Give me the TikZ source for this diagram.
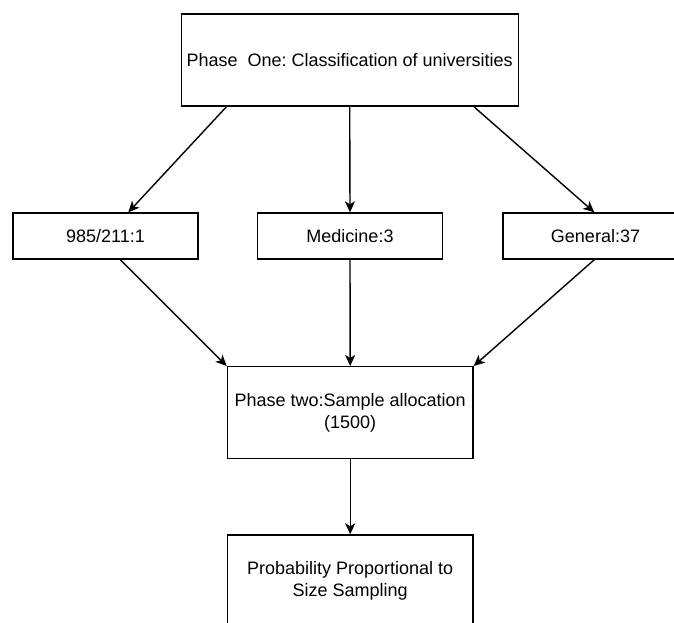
\documentclass[tikz,border=0pt]{standalone}
\usepackage{fontspec}
\setmainfont{Liberation Sans}
\usetikzlibrary{arrows.meta,calc}
\frenchspacing
\begin{document}
\begin{tikzpicture}[x=1pt,y=-1pt,
  box/.style={draw=black,line width=1.4pt,inner sep=0pt,align=center,
    font=\fontsize{18}{21.6}\selectfont},
  bigbox/.style={box,minimum width=337pt,minimum height=92pt},
  smallbox/.style={box,minimum width=185pt,minimum height=46pt},
  midbox/.style={box,minimum width=245.6pt,minimum height=92pt},
  conn/.style={line width=1.4pt,-{Stealth[length=11pt,width=10pt,inset=3pt]}}]
\path[use as bounding box,clip] (0,0) rectangle (674,622);
\fill[white] (0,0) rectangle (674,622);
\node[bigbox] (top) at (349.7,60) {Phase \ One: Classification of universities};
\node[smallbox] (b1) at (105.5,236) {985/211:1};
\node[smallbox] (b2) at (350,236) {Medicine:3};
\node[smallbox] (b3) at (595.5,236) {General:37};
\node[midbox] (p2) at (350.2,412.7) {Phase two:Sample allocation\\(1500)};
\node[midbox] (p3) at (350.2,581) {Probability Proportional to\\Size Sampling};
\draw[conn] ([xshift=46pt]top.south west) -- ([xshift=116pt]b1.north west);
\draw[conn] (top.south) -- (b2.north);
\draw[conn] ([xshift=-45pt]top.south east) -- ([xshift=92pt]b3.north west);
\draw[conn] ([xshift=108pt]b1.south west) -- (p2.north west);
\draw[conn] (b2.south) -- (p2.north);
\draw[conn] ([xshift=92pt]b3.south west) -- (p2.north east);
\draw[conn] (p2.south) -- (p3.north);
\end{tikzpicture}
\end{document}
